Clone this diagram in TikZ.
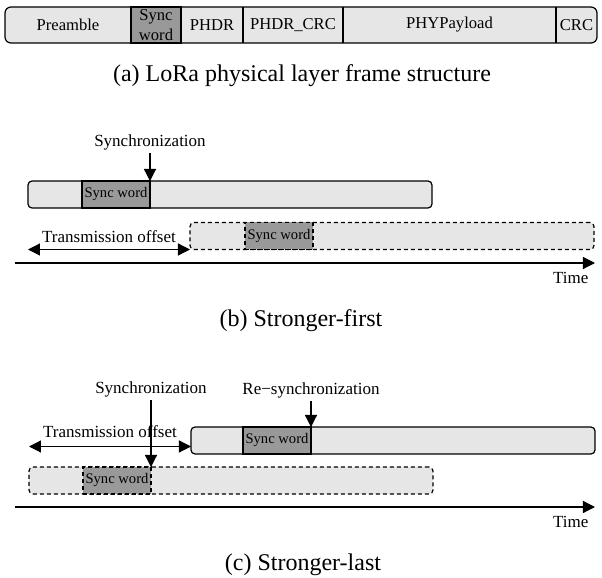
\documentclass[tikz,border=0pt]{standalone}
\usepackage{fontspec}
\setmainfont{Liberation Serif}
\usetikzlibrary{positioning, arrows.meta}
\definecolor{lightfill}{HTML}{E6E6E6}
\definecolor{darkfill}{HTML}{999999}
\tikzset{
  field/.style={minimum height=18pt, inner sep=0pt, outer sep=0pt,
    font=\fontsize{8.3}{10}\selectfont, align=center},
  msgbox/.style={draw, rounded corners=2pt, fill=lightfill, minimum width=202pt,
    minimum height=13.5pt, inner sep=0pt, outer sep=0pt},
  syncbox/.style={draw, fill=darkfill, minimum width=34pt, minimum height=13.5pt,
    inner sep=0pt, outer sep=0pt, font=\fontsize{7.3}{8}\selectfont},
  lbl/.style={inner sep=1pt, font=\fontsize{8.5}{10}\selectfont},
  capt/.style={font=\fontsize{12}{14}\selectfont},
  dsh/.style={dash pattern=on 2pt off 1.5pt},
  >={Triangle[length=6pt,width=6pt]}
}
\begin{document}
\begin{tikzpicture}[x=0.5pt, y=-0.5pt, line width=0.6pt]
      \useasboundingbox (0,0) rectangle (602,578);
      % (a) frame
      \draw[fill=lightfill, rounded corners=3pt] (5,7) rectangle (597,43);
      \node[field, minimum width=63pt] (pre) at (68,25) {Preamble};
      \node[field, draw, fill=darkfill, minimum width=25pt, right=0pt of pre] (fsync) {Sync\\word};
      \node[field, minimum width=31pt, right=0pt of fsync] (phdr) {PHDR};
      \node[field, minimum width=50pt, right=0pt of phdr] (hcrc) {PHDR\_CRC};
      \node[field, minimum width=106.5pt, right=0pt of hcrc] (pay) {PHYPayload};
      \node[field, minimum width=20.5pt, right=0pt of pay] (crc) {CRC};
      \foreach \f in {pre,phdr,hcrc,pay}
        \draw (\f.north east) -- (\f.south east);
      \node[capt] (capa) at (302,76) {(a) LoRa physical layer frame structure};

      % (b) stronger first
      \node[msgbox] (b1) at (230,194.5) {};
      \node[syncbox, right=27pt of b1.west] (bs1) {Sync word};
      \node[msgbox, dsh] (b2) at (392,236) {};
      \node[syncbox, dsh, right=27.5pt of b2.west] (bs2) {Sync word};
      \node[lbl, above=14pt of bs1.north east] (synb) {Synchronization};
      \draw[->] (synb) -- (bs1.north east);
      \draw[<->] (b1.west |- b2.south west) -- node[lbl, above=2pt] (offb) {Transmission offset} (b2.south west);
      \coordinate (tb0) at (15,263);
      \coordinate (tb1) at (595,263);
      \draw[->] (tb0) -- (tb1);
      \node[lbl, below left=3.5pt and 2pt of tb1] (timeb) {Time};
      \node[capt] (capb) at (301,321) {(b) Stronger-first};

      % (c) stronger last
      \node[msgbox] (c1) at (393,440.5) {};
      \node[syncbox, right=26pt of c1.west] (cs1) {Sync word};
      \node[msgbox, dsh] (c2) at (231,480.5) {};
      \node[syncbox, dsh, right=27pt of c2.west] (cs2) {Sync word};
      \node[lbl, above=33.5pt of cs2.north east] (sync) {Synchronization};
      \node[lbl, above=13pt of cs1.north east] (resync) {Re−synchronization};
      \draw[->] (sync) -- (cs2.north east);
      \draw[->] (resync) -- (cs1.north east);
      \coordinate (oc1) at ([yshift=-3pt]c1.west);
      \draw[<->] (c2.west |- oc1) -- node[lbl, above=3pt] (offc) {Transmission offset} (oc1);
      \coordinate (tc0) at (15,507);
      \coordinate (tc1) at (595,507);
      \draw[->] (tc0) -- (tc1);
      \node[lbl, below left=3.5pt and 2pt of tc1] (timec) {Time};
      \node[capt] (capc) at (303,565) {(c) Stronger-last};
    \end{tikzpicture}
\end{document}
